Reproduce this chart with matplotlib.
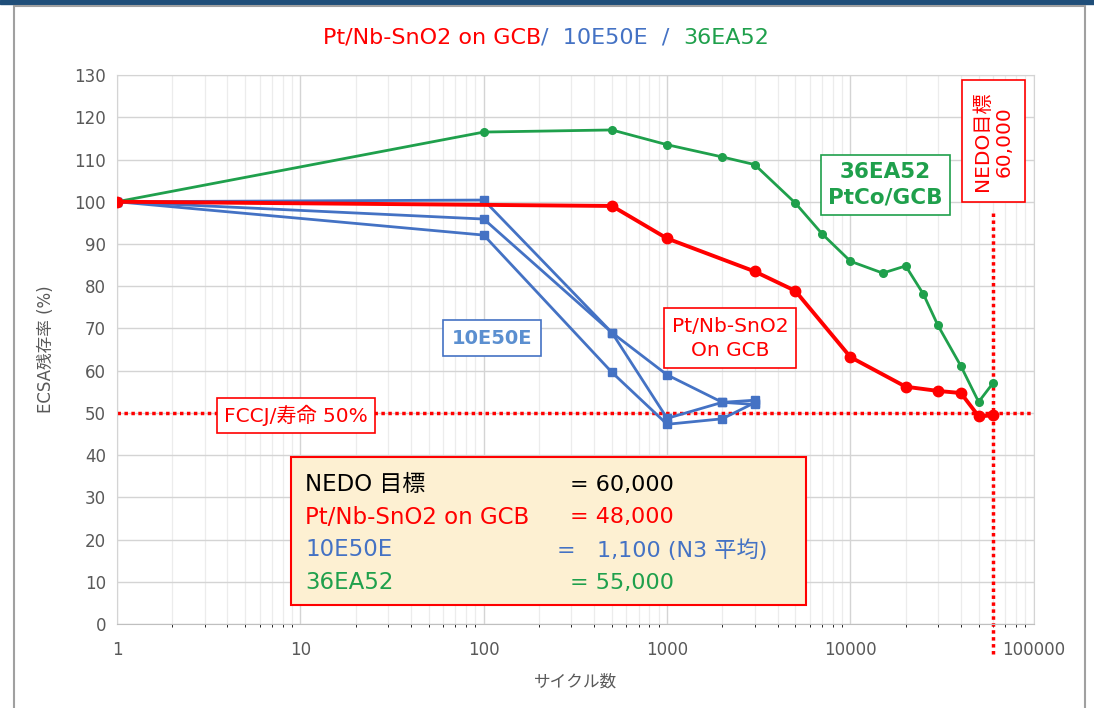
import matplotlib
matplotlib.use("Agg")
import matplotlib.pyplot as plt
from matplotlib.patches import Rectangle

plt.rcParams['font.family'] = ['DejaVu Sans', 'Noto Sans CJK JP']

# data
red_x = [1, 500, 1000, 3000, 5000, 10000, 20000, 30000, 40000, 50000, 60000]
red_y = [100, 99.0, 91.3, 83.5, 78.9, 63.2, 56.2, 55.2, 54.7, 49.2, 49.4]

green_x = [1, 100, 500, 1000, 2000, 3000, 5000, 7000, 10000, 15000, 20000,
           25000, 30000, 40000, 50000, 60000]
green_y = [100, 116.5, 117.0, 113.5, 110.6, 108.8, 99.7, 92.4, 85.9, 83.1,
           84.8, 78.1, 70.7, 61.1, 52.6, 57.1]

blue_x = [1, 100, 500, 1000, 2000, 3000]
blue_a = [100, 100.4, 69.0, 59.0, 52.5, 52.0]
blue_b = [100, 95.9, 69.0, 48.7, 52.5, 53.0]
blue_c = [100, 92.1, 59.6, 47.3, 48.6, 52.4]

x_ticks = [1, 10, 100, 1000, 10000, 100000]
x_labels = ['1', '10', '100', '1000', '10000', '100000']
y_ticks = list(range(0, 131, 10))

RED = '#ff0000'
BLUE = '#4472c4'
GREEN = '#1fa04c'
GREY = '#595959'

fig = plt.figure(figsize=(10.94, 7.08), dpi=100)

# slide frame
fig.patches.append(Rectangle((0, 0.995), 1, 0.005, transform=fig.transFigure,
                             color='#1f4e79', zorder=0))
fig.patches.append(Rectangle((0.013, -0.01), 0.979, 1.002, transform=fig.transFigure,
                             fill=False, edgecolor='#a0a0a0', lw=1.5, zorder=0))

ax = fig.add_axes([0.107, 0.1186, 0.838, 0.7754])
ax.set_xscale('log')
ax.set_xlim(1, 100000)
ax.set_ylim(0, 130)

ax.plot(green_x, green_y, color=GREEN, lw=2.0, marker='o', ms=5.5, zorder=3)
for ys in (blue_a, blue_b, blue_c):
    ax.plot(blue_x, ys, color=BLUE, lw=2.0, marker='s', ms=6, zorder=4)
ax.plot(red_x, red_y, color=RED, lw=2.8, marker='o', ms=7.5, zorder=5)

ax.set_xticks(x_ticks)
ax.set_xticklabels(x_labels)
ax.set_yticks(y_ticks)
ax.tick_params(axis='both', length=0, labelsize=12, colors=GREY, pad=8)
ax.tick_params(axis='x', pad=12)
ax.grid(True, which='major', color='#d4d4d4', lw=1.0)
ax.grid(True, which='minor', axis='x', color='#ececec', lw=0.9)
for s in ax.spines.values():
    s.set_color('#d4d4d4')
ax.spines['bottom'].set_color('#bfbfbf')

ax.set_ylabel('ECSA残存率 (%)', fontsize=12, color=GREY, labelpad=14)
ax.set_xlabel('サイクル数', fontsize=12, color=GREY, labelpad=10)

# coloured title, pieces chained one after another
t1 = fig.text(0.295, 0.947, 'Pt/Nb-SnO2 on GCB', color=RED, fontsize=16,
              ha='left', va='center')
t2 = ax.annotate('/  10E50E  /  ', xy=(1, 0), xycoords=t1, color=BLUE, fontsize=16,
                 ha='left', va='bottom')
t3 = ax.annotate('36EA52', xy=(1, 0), xycoords=t2, color=GREEN, fontsize=16,
                 ha='left', va='bottom')

# FCCJ 50% line
ax.axhline(50, color=RED, ls=(0, (1, 1)), lw=2.5, zorder=2)
ax.text(9.5, 49.4, 'FCCJ/寿命 50%', color=RED, fontsize=14.5, ha='center', va='center',
        zorder=6, bbox=dict(boxstyle='square,pad=0.35', fc='white', ec=RED, lw=1.2))

# NEDO target line
ax.vlines(60000, -7, 98, color=RED, ls=(0, (1, 1)), lw=2.5, zorder=2, clip_on=False)
ax.text(60000, 114.3, 'NEDO目標\n60,000', color=RED, fontsize=14.5, rotation=90,
        ha='center', va='center', multialignment='center', zorder=6,
        bbox=dict(boxstyle='square,pad=0.55', fc='white', ec=RED, lw=1.2))

# series labels
ax.text(15500, 104, '36EA52\nPtCo/GCB', color=GREEN, fontsize=15.5, fontweight='bold',
        ha='center', va='center', linespacing=1.35, zorder=6,
        bbox=dict(boxstyle='square,pad=0.35', fc='white', ec=GREEN, lw=1.2))
ax.text(111, 67.7, '10E50E', color='#5b8fd0', fontsize=14, fontweight='bold',
        ha='center', va='center', zorder=6,
        bbox=dict(boxstyle='square,pad=0.45', fc='white', ec=BLUE, lw=1.2))
ax.text(2200, 67.7, 'Pt/Nb-SnO2\nOn GCB', color=RED, fontsize=14.5,
        ha='center', va='center', linespacing=1.35, zorder=6,
        bbox=dict(boxstyle='square,pad=0.4', fc='white', ec=RED, lw=1.2))

# summary box
box = Rectangle((0.19, 0.035), 0.561, 0.27, transform=ax.transAxes,
                fc='#fdf0d2', ec=RED, lw=1.5, zorder=6)
ax.add_patch(box)
names = ['NEDO 目標', 'Pt/Nb-SnO2 on GCB', '10E50E', '36EA52']
values = ['= 60,000', '= 48,000', '=   1,100 (N3 平均)', '= 55,000']
colors = ['black', RED, BLUE, GREEN]
val_x = [0.494, 0.494, 0.480, 0.494]
for i in range(len(names)):
    yy = 0.254 - i * 0.0595
    ax.text(0.205, yy, names[i], color=colors[i], fontsize=16.5, ha='left',
            va='center', transform=ax.transAxes, zorder=7)
    ax.text(val_x[i], yy, values[i], color=colors[i], fontsize=16, ha='left',
            va='center', transform=ax.transAxes, zorder=7)

fig.savefig('out.png', dpi=100)
